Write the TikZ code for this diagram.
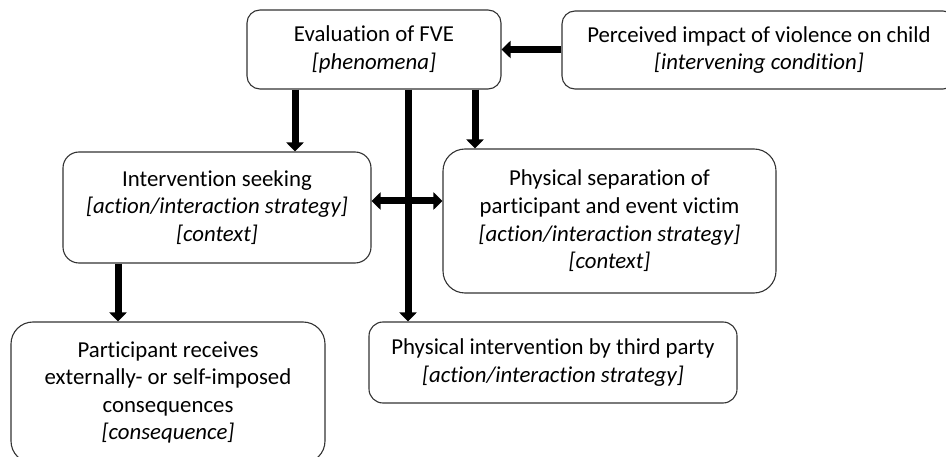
\documentclass[tikz,border=0pt]{standalone}
\usepackage{fontspec}
\setmainfont{Carlito}[Ligatures=NoCommon]
\usetikzlibrary{arrows.meta}
\begin{document}
\begin{tikzpicture}[x=1pt,y=-1pt,
  box/.style={draw=black!80,line width=1.1pt,inner sep=0pt,align=center,
    font=\fontsize{22.8}{27.6}\selectfont},
  arr/.style={line width=7pt,-{Triangle[width=17pt,length=9pt]}},
  darr/.style={line width=7pt,{Triangle[width=17pt,length=9pt]}-{Triangle[width=17pt,length=9pt]}}]
\useasboundingbox (0,0) rectangle (946,457);
\node[box,rounded corners=13pt,minimum width=254pt,minimum height=79pt] (fve) at (374,49.5)
  {Evaluation of FVE\\ \textit{[phenomena]}};
\node[box,rounded corners=13pt,minimum width=394pt,minimum height=78pt] (per) at (759,50)
  {Perceived impact of violence on child\\ \textit{[intervening condition]}};
\node[box,rounded corners=16pt,minimum width=308pt,minimum height=111pt] (is) at (217,207.5)
  {Intervention seeking\\ \textit{[action/interaction strategy]}\\ \textit{[context]}};
\node[box,rounded corners=22pt,minimum width=333pt,minimum height=144pt] (ps) at (609.5,221)
  {Physical separation of\\ participant and event victim\\ \textit{[action/interaction strategy]}\\ \textit{[context]}};
\node[box,rounded corners=22pt,minimum width=314pt,minimum height=141pt] (pr) at (168,392.5)
  {Participant receives\\ externally- or self-imposed\\ consequences\\ \textit{[consequence]}};
\node[box,rounded corners=14pt,minimum width=368pt,minimum height=81pt] (pi) at (553,362.5)
  {Physical intervention by third party\\ \textit{[action/interaction strategy]}};
\coordinate (xa) at (295,0);
\coordinate (xb) at (475,0);
\coordinate (xc) at (408,0);
\coordinate (xd) at (118,0);
\coordinate (yh) at (0,201);
\draw[arr] (per.west |- fve.east) -- (fve.east);
\draw[arr] (fve.south -| xa) -- (is.north -| xa);
\draw[arr] (fve.south -| xb) -- (ps.north -| xb);
\draw[arr] (fve.south -| xc) -- (pi.north -| xc);
\draw[darr] (is.east |- yh) -- (ps.west |- yh);
\draw[arr] (is.south -| xd) -- (pr.north -| xd);
\end{tikzpicture}
\end{document}
